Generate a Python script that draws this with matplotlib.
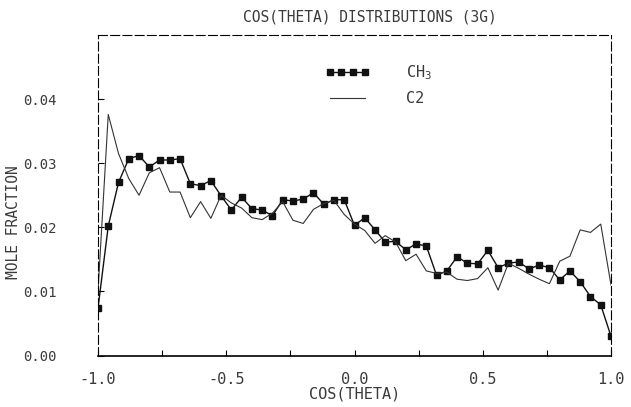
import numpy as np
import matplotlib
matplotlib.use('Agg')
import matplotlib.pyplot as plt
from matplotlib.ticker import MultipleLocator, FormatStrFormatter

# 绘图仪风格字体
plt.rcParams['font.family'] = ['DejaVu Sans Mono']
plt.rcParams['mathtext.default'] = 'regular'

# 数据：cos(theta) 分布（步长 0.04，共 51 个点）
cos_theta = np.linspace(-1.0, 1.0, 51)

ch3_frac = [0.0074, 0.0202, 0.0270, 0.0307, 0.0312, 0.0294, 0.0305, 0.0305, 0.0307, 0.0268,
            0.0265, 0.0273, 0.0249, 0.0227, 0.0247, 0.0229, 0.0227, 0.0218, 0.0243, 0.0241,
            0.0244, 0.0254, 0.0236, 0.0243, 0.0243, 0.0203, 0.0215, 0.0196, 0.0177, 0.0178,
            0.0165, 0.0174, 0.0171, 0.0125, 0.0132, 0.0154, 0.0144, 0.0143, 0.0164, 0.0137,
            0.0144, 0.0146, 0.0135, 0.0141, 0.0137, 0.0118, 0.0132, 0.0115, 0.0092, 0.0079,
            0.0030]

c2_frac = [0.0100, 0.0376, 0.0315, 0.0276, 0.0250, 0.0285, 0.0293, 0.0255, 0.0255, 0.0215,
           0.0240, 0.0214, 0.0250, 0.0238, 0.0230, 0.0215, 0.0212, 0.0222, 0.0240, 0.0211,
           0.0206, 0.0228, 0.0237, 0.0242, 0.0220, 0.0205, 0.0195, 0.0175, 0.0187, 0.0177,
           0.0148, 0.0158, 0.0132, 0.0128, 0.0130, 0.0119, 0.0117, 0.0120, 0.0137, 0.0102,
           0.0144, 0.0136, 0.0127, 0.0119, 0.0112, 0.0147, 0.0155, 0.0196, 0.0192, 0.0205,
           0.0110]

x_ticks = [-1.0, -0.5, 0.0, 0.5, 1.0]
y_ticks = [0.00, 0.01, 0.02, 0.03, 0.04]

TEXT_COLOR = '#3a3a3a'


def make_plot():
    fig = plt.figure(figsize=(6.31, 4.07), dpi=100)
    ax = fig.add_axes([98 / 631, 1 - 355.5 / 407, 513 / 631, 320.5 / 407])

    # CH3：带方块标记的线
    ax.plot(cos_theta, ch3_frac, marker='s', markersize=4, linewidth=1.0,
            color='#111111', label='CH$_3$')
    # C2：细线
    ax.plot(cos_theta, c2_frac, linewidth=0.8, color='#333333', label='C2')

    ax.set_xlim(-1.0, 1.0)
    ax.set_ylim(0.0, 0.05)

    # 刻度
    ax.set_xticks(x_ticks)
    ax.xaxis.set_minor_locator(MultipleLocator(0.25))
    ax.set_yticks(y_ticks)
    ax.xaxis.set_major_formatter(FormatStrFormatter('%.1f'))
    ax.yaxis.set_major_formatter(FormatStrFormatter('%.2f'))
    ax.tick_params(axis='x', which='both', direction='in', length=4, width=0.8,
                   pad=12, labelsize=11, labelcolor=TEXT_COLOR)
    ax.tick_params(axis='y', which='both', direction='in', length=4, width=0.8,
                   pad=30, labelsize=10, labelcolor=TEXT_COLOR)

    # 边框：上、左、右为虚线
    for side in ['top', 'left', 'right']:
        ax.spines[side].set_linestyle((0, (8, 3)))
        ax.spines[side].set_linewidth(0.8)
    ax.spines['bottom'].set_linewidth(1.2)

    # 标题与坐标轴标签
    fig.text(370 / 631, 1 - 17 / 407, 'COS(THETA) DISTRIBUTIONS (3G)', ha='center',
             va='center', fontsize=10.5, color=TEXT_COLOR)
    fig.text(355 / 631, 1 - 394 / 407, 'COS(THETA)', ha='center', va='center',
             fontsize=11, color=TEXT_COLOR)
    fig.text(14 / 631, 1 - 222 / 407, 'MOLE FRACTION', ha='center', va='center',
             rotation=90, fontsize=10.5, color=TEXT_COLOR)

    # 图例
    ax.legend(loc='upper left', bbox_to_anchor=(0.416, 0.955), frameon=False,
              numpoints=4, handlelength=2.9, fontsize=11, labelcolor=TEXT_COLOR,
              labelspacing=0.6, handletextpad=2.4)

    fig.savefig('out.png', dpi=100, facecolor='white')
    plt.close(fig)


if __name__ == '__main__':
    make_plot()
